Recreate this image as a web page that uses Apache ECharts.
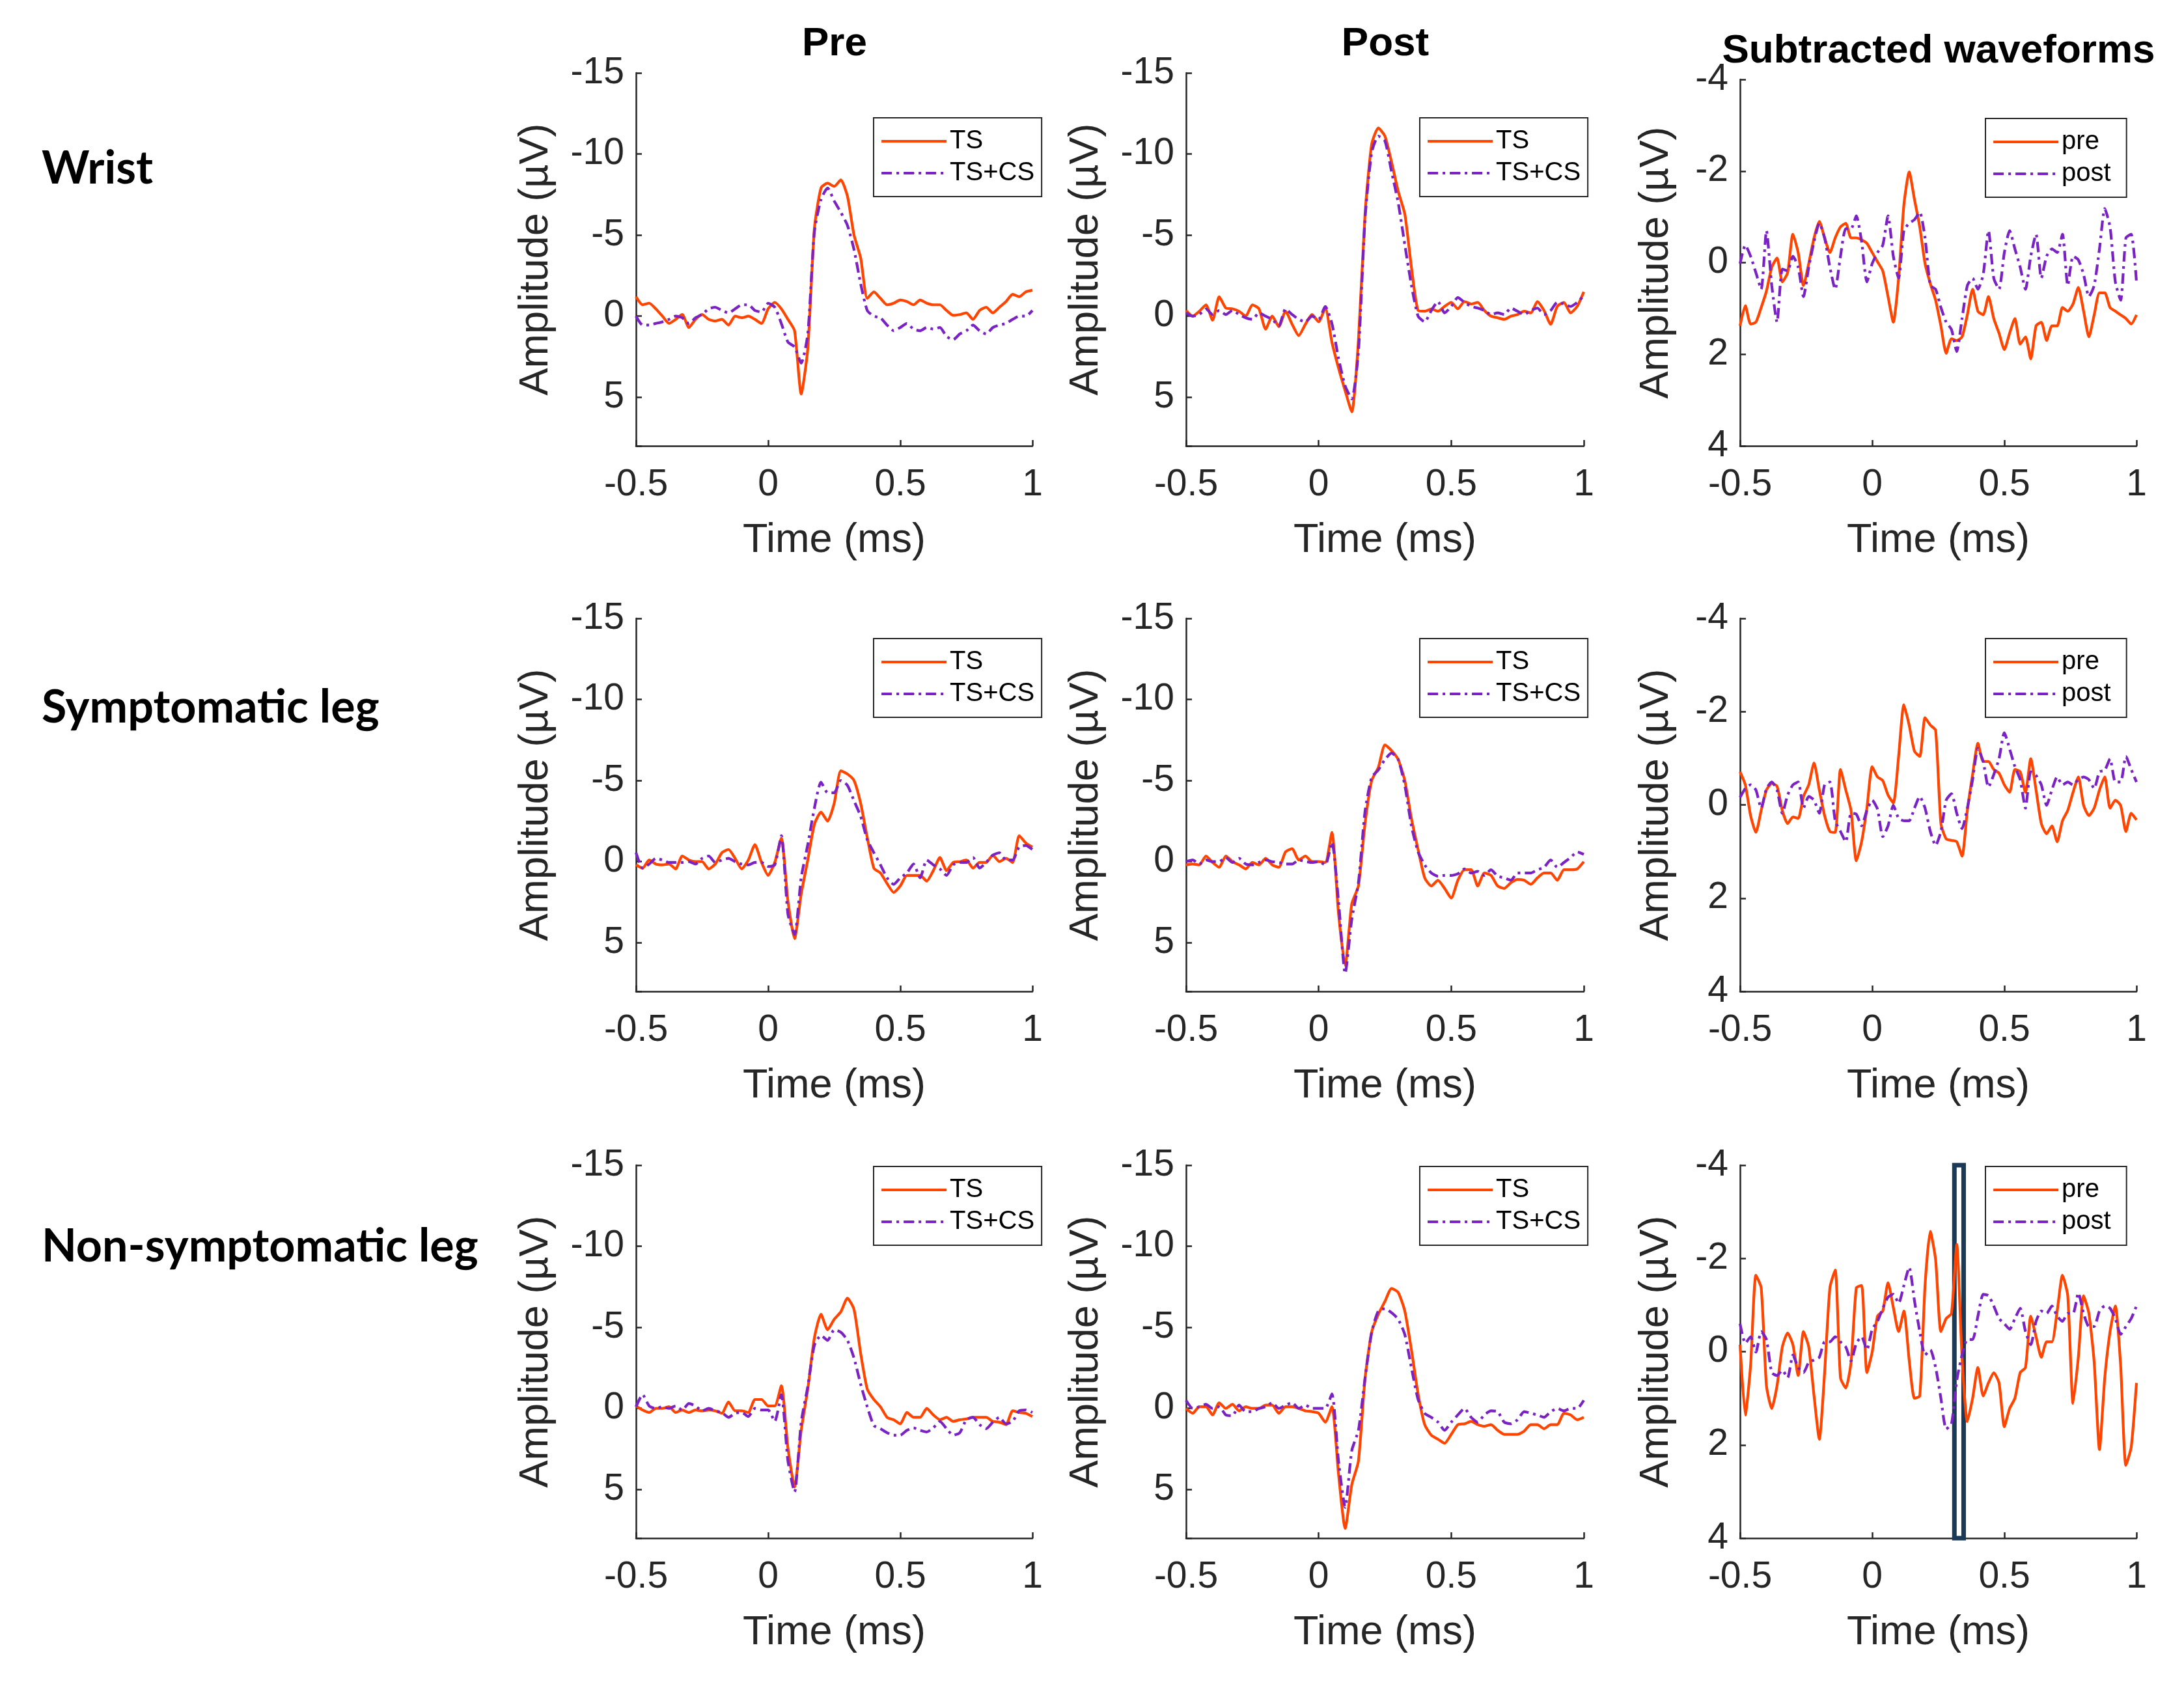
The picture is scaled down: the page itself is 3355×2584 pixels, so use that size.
<!DOCTYPE html>
<html>
<head>
<meta charset="utf-8">
<script src="https://cdn.jsdelivr.net/npm/echarts@6/dist/echarts.min.js"></script>
<style>
html, body { margin: 0; padding: 0; background: #fff; }
#main { width: 3355px; height: 2584px; }
</style>
</head>
<body>
<div id="main"></div>
<script>
// sample times (ms)
var timeWave = [-0.5,-0.475,-0.45,-0.425,-0.4,-0.375,-0.35,-0.325,-0.3,-0.275,-0.25,-0.225,-0.2,-0.175,-0.15,-0.125,-0.1,-0.075,-0.05,-0.025,0,0.025,0.05,0.075,0.1,0.125,0.15,0.175,0.2,0.225,0.25,0.275,0.3,0.325,0.35,0.375,0.4,0.425,0.45,0.475,0.5,0.525,0.55,0.575,0.6,0.625,0.65,0.675,0.7,0.725,0.75,0.775,0.8,0.825,0.85,0.875,0.9,0.925,0.95,0.975,1];
var timeDiff = [-0.5,-0.48,-0.46,-0.44,-0.42,-0.4,-0.38,-0.36,-0.34,-0.32,-0.3,-0.28,-0.26,-0.24,-0.22,-0.2,-0.18,-0.16,-0.14,-0.12,-0.1,-0.08,-0.06,-0.04,-0.02,0,0.02,0.04,0.06,0.08,0.1,0.12,0.14,0.16,0.18,0.2,0.22,0.24,0.26,0.28,0.3,0.32,0.34,0.36,0.38,0.4,0.42,0.44,0.46,0.48,0.5,0.52,0.54,0.56,0.58,0.6,0.62,0.64,0.66,0.68,0.7,0.72,0.74,0.76,0.78,0.8,0.82,0.84,0.86,0.88,0.9,0.92,0.94,0.96,0.98,1];

// Wrist
var wristPreTS = [-1.2,-0.7,-0.8,-0.45,0,0.45,0.2,-0.1,0.7,0.2,-0.1,0.2,0.3,0.2,0.55,0,0.1,0,0.2,0.45,-0.45,-0.85,-0.45,0.2,0.9,4.8,2.0,-5.4,-7.9,-8.2,-8.0,-8.4,-7.4,-5.0,-3.6,-1.1,-1.5,-1.1,-0.7,-0.8,-1.0,-0.9,-0.7,-1.0,-0.8,-0.7,-0.7,-0.35,-0.05,-0.1,-0.2,0.2,-0.35,-0.55,-0.2,-0.55,-0.9,-1.35,-1.2,-1.5,-1.6];
var wristPreCS = [0,0.55,0.55,0.45,0.35,0.2,0,0.1,0.45,0.1,-0.1,-0.45,-0.55,-0.35,-0.2,-0.45,-0.7,-0.7,-0.35,-0.25,-0.8,-0.55,0.45,1.6,1.9,2.9,1.1,-5.2,-7.2,-7.9,-7.1,-6.4,-5.6,-4.1,-2.0,-0.35,0,0.1,0.55,0.9,0.7,0.45,0.8,0.9,0.7,0.8,0.7,1.25,1.45,1.1,0.9,0.55,0.9,1.1,0.7,0.55,0.45,0.2,0,0,-0.35];
var wristPostTS = [-0.35,0,-0.3,-0.7,0.25,-1.2,-0.5,-0.45,-0.3,0,-0.7,-0.45,0.8,0,0.65,-0.3,0.5,1.2,0.5,-0.1,0.35,-0.5,1.6,3.2,4.6,5.9,1.5,-6.3,-10.6,-11.6,-11.1,-9.5,-7.7,-6.3,-3.0,-0.35,-0.3,-0.45,-0.3,-0.6,-0.85,-0.45,-0.9,-0.75,-0.85,-0.35,0,0.1,0.2,0,-0.1,-0.3,-0.2,-0.9,-0.35,0.5,-0.6,-0.85,-0.2,-0.6,-1.5];
var wristPostCS = [-0.2,0,-0.1,-0.45,-0.1,-0.35,-0.1,-0.35,-0.1,0.1,0.2,-0.2,0,0.2,0.6,-0.45,-0.1,0.2,0.35,0,0.2,-0.6,0.45,2.6,4.3,5.1,2.2,-6.0,-10.1,-11.1,-10.8,-8.9,-7.0,-4.4,-1.9,0,0.35,-0.35,-0.9,-0.2,-0.6,-1.15,-0.85,-0.6,-0.5,-0.35,-0.1,-0.2,-0.1,-0.5,-0.3,-0.1,-0.35,-0.5,-0.1,-0.35,-0.85,-0.75,-0.6,-0.85,-1.25];
var wristDiffPre = [1.38,0.94,1.34,1.30,0.98,0.62,0.10,-0.10,0.42,0.22,-0.62,-0.22,0.50,0.02,-0.54,-0.90,-0.54,-0.22,-0.54,-0.78,-0.86,-0.54,-0.54,-0.50,-0.42,-0.22,-0.02,0.18,0.74,1.30,0.34,-1.26,-1.98,-1.38,-0.78,0.02,0.46,0.82,1.38,1.98,1.66,1.70,1.62,1.14,0.58,1.06,1.14,0.74,1.22,1.54,1.90,1.54,1.22,1.78,1.62,2.10,1.38,1.30,1.70,1.38,1.38,0.98,1.06,0.90,0.54,1.06,1.62,1.14,0.66,0.66,0.98,1.06,1.14,1.22,1.34,1.14];
var wristDiffPost = [0.02,-0.38,-0.14,0.22,0.58,-0.70,0.50,1.30,0.14,0.18,-0.14,0.10,0.74,0.10,-0.46,-0.86,-0.54,0.10,0.58,-0.14,-0.74,-0.74,-1.02,-0.46,0.42,0.02,-0.22,-0.38,-1.02,-0.14,0.34,-0.70,-0.86,-0.94,-1.10,-0.54,0.50,0.58,0.98,1.30,1.46,1.94,1.22,0.50,0.34,0.58,0.26,-0.70,0.34,0.58,-0.22,-0.70,-0.30,0.10,0.58,-0.14,-0.62,0.34,-0.14,-0.30,-0.22,-0.62,0.50,-0.14,-0.06,0.26,0.74,0.50,-0.30,-1.18,-0.78,0.42,0.82,-0.54,-0.62,0.42];

// Symptomatic leg
var sympPreTS = [0.2,0.4,-0.1,0.15,0.2,0.15,0.45,-0.35,-0.1,0,0,0.45,0.15,-0.55,-0.75,-0.2,0.45,-0.1,-1.05,0.05,0.85,0.05,-1.45,2.45,4.75,2.0,-0.1,-2.3,-3.05,-2.5,-3.6,-5.6,-5.4,-5.0,-3.6,-1.5,0.4,0.7,1.35,1.9,1.5,0.85,0.85,0.85,1.2,0.55,-0.25,0.55,0.05,0,-0.1,0.4,0.05,0.05,-0.4,0,-0.2,0.05,-1.6,-1.15,-0.9];
var sympPreCS = [-0.55,0.4,0.15,-0.2,-0.1,0.05,0.05,0.05,0,0.15,-0.2,-0.35,0.05,-0.1,-0.2,0,0.15,0.2,0.05,0.05,0.3,0.2,-1.6,3.25,4.5,1.0,-1.05,-3.3,-4.9,-4.25,-4.25,-5.0,-4.7,-3.75,-2.8,-1.35,-0.55,0.2,1.0,1.4,1.0,0.7,0.15,1.0,-0.1,0.2,0.45,0.85,0.2,0.05,0.05,-0.25,0.4,0.05,-0.4,-0.55,-0.1,-0.1,-0.9,-1.0,-0.75];
var sympPostTS = [0.2,0.15,0.2,-0.35,0.05,0.35,-0.35,0,0.2,0.45,0.05,0.2,-0.2,0.2,0.35,-0.6,-0.8,-0.1,-0.35,0,0,0.05,-1.8,3.2,6.4,2.6,1.5,-2.35,-5.0,-5.8,-7.2,-6.85,-6.3,-5.0,-2.65,-0.75,1.0,1.5,1.15,1.65,2.25,1.15,0.5,0.5,1.5,0.7,0.85,1.5,1.65,1.3,1.1,1.15,1.4,1.0,0.7,0.7,1.15,0.5,0.5,0.45,0];
var sympPostCS = [0,-0.1,0.15,-0.1,0,0,-0.25,0.05,-0.2,0.15,0.2,0.05,-0.1,0,0.05,0.15,0.15,-0.1,0,0.05,0,0.2,-1.2,2.45,6.9,3.55,1.3,-3.1,-5.2,-5.65,-6.3,-6.7,-6.3,-4.7,-2.2,-0.6,0.2,0.7,0.9,0.85,0.85,0.75,0.45,0.7,0.6,0.85,0.5,0.9,1.0,1.15,0.7,0.7,0.7,0.5,0.35,-0.1,0.35,0.05,-0.25,-0.6,-0.45];
var sympDiffPre = [-0.71,-0.43,0.23,0.59,0.12,-0.32,-0.46,-0.40,0.12,0.40,0.26,0.29,-0.18,-0.43,-0.90,-0.32,0.23,0.57,0.59,-0.76,-0.32,0.12,1.20,0.79,0.07,-0.82,-0.60,-0.52,-0.21,-0.04,-1.04,-2.15,-1.71,-1.15,-1.04,-1.87,-1.71,-1.60,0.40,0.73,0.76,0.79,1.10,0.12,-0.65,-1.32,-0.93,-0.93,-0.76,-0.68,-0.43,-0.27,-0.76,-0.71,-0.27,-0.99,-0.32,0.40,0.62,0.45,0.79,0.34,0.12,-0.27,-0.60,0.01,0.23,0.07,-0.32,-0.60,0.07,-0.10,0.01,0.57,0.18,0.32];
var sympDiffPost = [-0.16,-0.35,-0.43,-0.32,0.07,-0.35,-0.49,-0.32,0.18,-0.21,-0.43,-0.49,0.07,-0.18,-0.10,0.18,-0.43,-0.49,0.34,0.57,0.79,0.18,0.20,0.45,0.12,-0.10,0.09,0.68,0.45,0.01,0.29,0.34,0.34,0.07,-0.18,0.07,0.57,0.87,0.57,-0.10,-0.24,0.18,0.51,0.07,-0.54,-1.21,-0.93,-0.38,-0.65,-0.99,-1.55,-1.20,-0.82,-0.54,0.07,-0.71,-0.63,-0.43,0.01,-0.32,-0.60,-0.43,-0.49,-0.43,-0.54,-0.60,-0.54,-0.35,-0.71,-0.74,-0.99,-0.49,-0.49,-1.04,-0.76,-0.49];

// Non-symptomatic leg
var nonPreTS = [-0.15,0.1,0.25,0,0,-0.1,0.25,0.1,0.25,0.1,0.15,0.1,0.15,0.3,-0.4,0.15,0.15,0.25,-0.55,-0.55,-0.15,-0.15,-1.4,2.45,4.85,1.35,-1.2,-4.35,-5.8,-4.85,-5.5,-5.95,-6.8,-6.1,-3.4,-1.2,-0.55,-0.1,0.55,0.7,0.95,0.25,0.55,0.55,0,0.4,0.7,0.55,0.8,0.7,0.65,0.55,0.55,0.55,0.8,0.85,1.0,0.15,0.25,0.3,0.5];
var nonPreCS = [-0.1,-0.85,-0.15,0,-0.1,0,-0.15,0.1,-0.3,-0.15,0.15,0,0.15,0.25,0.55,0.3,0.25,0.5,0,0.1,0.1,0.8,-0.85,3.25,5.15,0.85,-1.35,-3.9,-4.5,-4.2,-4.85,-4.7,-4.2,-3.1,-1.5,-0.1,1.05,1.25,1.5,1.65,1.65,1.35,1.2,1.35,1.45,1.2,0.8,1.25,1.65,1.5,0.7,0.55,1.0,1.25,0.85,0.55,0.95,0.8,0.15,0.1,0.25];
var nonPostTS = [0,0.3,-0.1,-0.1,0.4,-0.35,0,-0.25,0.15,-0.1,0,0,-0.2,-0.2,0.3,-0.1,-0.1,0,0.15,0.2,0.3,0.85,-0.1,4.05,7.4,4.7,3.25,-1.85,-4.7,-5.8,-6.6,-7.4,-7.15,-6.0,-3.6,-0.9,1.0,1.65,1.9,2.15,1.6,1.0,0.95,0.8,1.0,1.1,1.0,1.35,1.6,1.6,1.6,1.4,1.0,1.0,1.25,1.0,1.0,0.3,0.4,0.7,0.55];
var nonPostCS = [-0.5,0,-0.1,-0.25,0,-0.1,0.4,0.45,-0.2,0.2,0.2,0,-0.1,-0.35,0,-0.2,-0.35,0,-0.2,0,0,0,-0.9,3.25,6.1,2.6,1.35,-1.85,-4.7,-6.0,-6.15,-5.9,-5.5,-4.55,-2.5,-0.55,0.3,0.55,0.85,1.35,0.85,0.4,0,0.55,0.85,0.4,0.15,0.2,0.85,0.95,0.7,0.2,0.3,0.4,0.55,0.2,0,0.15,0,0,-0.5];
var nonDiffPre = [-0.15,1.36,0.29,-1.64,-1.37,0.73,1.22,0.73,-0.10,-0.40,-0.15,0.51,-0.43,-0.10,0.95,1.88,0.45,-1.37,-1.75,0.56,0.78,0.23,-1.37,-1.42,0.45,0.01,-0.76,-0.87,-1.48,-0.95,-0.43,-0.87,0.18,1.00,0.95,-1.42,-2.58,-1.97,-0.43,-0.71,-0.82,-2.30,0.12,1.50,1.00,0.34,0.95,0.67,0.45,0.67,1.61,1.22,1.00,0.45,0.34,-0.76,-0.32,0.12,-0.21,-0.21,-0.87,-1.64,-1.20,1.11,0.12,-1.20,-0.82,0.23,2.10,0.56,-0.43,-0.98,0.29,2.44,2.05,0.67];
var nonDiffPost = [-0.60,-0.18,-0.32,0.01,-0.43,-0.26,0.45,0.51,0.40,0.56,0.07,0.34,0.45,0.23,0.18,0.12,-0.21,-0.21,-0.32,-0.21,-0.10,0.20,-0.18,-0.32,-0.04,-0.48,-0.65,-0.93,-1.17,-1.23,-1.04,-1.42,-1.81,-1.09,-0.43,0.07,-0.04,0.34,1.00,1.66,1.55,0.62,0.07,-0.26,-0.26,-0.76,-1.23,-1.20,-0.98,-0.71,-0.60,-0.48,-0.71,-0.93,-0.43,-0.15,-0.65,-0.87,-0.82,-0.98,-0.76,-0.65,-0.82,-0.82,-1.26,-0.82,-0.54,-0.54,-0.87,-0.98,-0.93,-0.71,-0.37,-0.54,-0.71,-0.98];

// highlighted window on the non-symptomatic subtracted plot (ms)
var highlightWindow = [0.311, 0.346];

var rowLabels = ['Wrist', 'Symptomatic leg', 'Non-symptomatic leg'];
var colTitles = ['Pre', 'Post', 'Subtracted waveforms'];
var waveNames = ['TS', 'TS+CS'];
var diffNames = ['pre', 'post'];

var panels = [
  {row: 0, col: 0, t: timeWave, a: wristPreTS, b: wristPreCS},
  {row: 0, col: 1, t: timeWave, a: wristPostTS, b: wristPostCS},
  {row: 0, col: 2, t: timeDiff, a: wristDiffPre, b: wristDiffPost},
  {row: 1, col: 0, t: timeWave, a: sympPreTS, b: sympPreCS},
  {row: 1, col: 1, t: timeWave, a: sympPostTS, b: sympPostCS},
  {row: 1, col: 2, t: timeDiff, a: sympDiffPre, b: sympDiffPost},
  {row: 2, col: 0, t: timeWave, a: nonPreTS, b: nonPreCS},
  {row: 2, col: 1, t: timeWave, a: nonPostTS, b: nonPostCS},
  {row: 2, col: 2, t: timeDiff, a: nonDiffPre, b: nonDiffPost, mark: true}
];

// layout
var colLeft = [977, 1822, 2673];
var colWidth = [609, 611, 609];
var rowTop = [112, 950, 1790];
var rowHeight = 573;
var legendTop = [181, 981, 1792];
var legendLeft = [1342, 2181, 3050];

var ORANGE = '#ff4500';
var PURPLE = '#7a22c4';
var AXIS = '#262626';
var FONT = '"Liberation Sans", Arial, sans-serif';
var LINE_W = 4.2;
var DASH_DOT = [16, 7, 4, 7];

function pairs(t, v) {
  var out = [];
  for (var i = 0; i < t.length; i++) out.push([t[i], v[i]]);
  return out;
}

var grids = [], xAxes = [], yAxes = [], series = [], legends = [];

panels.forEach(function (p, i) {
  var isDiff = p.col === 2;
  var top = rowTop[p.row];
  var h = rowHeight;
  if (p.row === 0 && isDiff) { top += 10; h -= 10; }
  grids.push({left: colLeft[p.col], top: top, width: colWidth[p.col], height: h, containLabel: false});

  xAxes.push({
    gridIndex: i, type: 'value', min: -0.5, max: 1, interval: 0.5,
    name: 'Time (ms)', nameLocation: 'middle', nameGap: 114,
    nameTextStyle: {fontSize: 63, fontFamily: FONT, color: AXIS},
    axisLine: {onZero: false, lineStyle: {color: AXIS, width: 2.5}},
    axisTick: {inside: true, length: 9, lineStyle: {color: AXIS, width: 2.5}},
    axisLabel: {fontSize: 57, fontFamily: FONT, color: AXIS, margin: 32, showMinLabel: true, showMaxLabel: true},
    splitLine: {show: false}
  });

  yAxes.push({
    gridIndex: i, type: 'value', inverse: true,
    min: isDiff ? -4 : -15, max: isDiff ? 4 : 8, interval: isDiff ? 2 : 5,
    name: 'Amplitude (µV)', nameLocation: 'middle', nameRotate: 90, nameGap: isDiff ? 97 : 122,
    nameTextStyle: {fontSize: 63, fontFamily: FONT, color: AXIS},
    axisLine: {onZero: false, lineStyle: {color: AXIS, width: 2.5}},
    axisTick: {inside: true, length: 9, lineStyle: {color: AXIS, width: 2.5}},
    axisLabel: {
      fontSize: 57, fontFamily: FONT, color: AXIS, margin: 18,
      formatter: function (v) { return (isDiff ? v % 2 === 0 : v % 5 === 0) ? String(v) : ''; }
    },
    splitLine: {show: false}
  });

  var names = isDiff ? diffNames : waveNames;
  var first = {
    name: names[0], type: 'line', xAxisIndex: i, yAxisIndex: i,
    data: pairs(p.t, p.a), symbol: 'none', smooth: 0.2,
    lineStyle: {color: ORANGE, width: LINE_W}, itemStyle: {color: ORANGE},
    z: 2
  };
  if (p.mark) {
    first.markArea = {
      silent: true,
      itemStyle: {color: 'rgba(255,255,255,0)', borderColor: '#1b3a57', borderWidth: 7},
      data: [[{xAxis: highlightWindow[0]}, {xAxis: highlightWindow[1]}]]
    };
  }
  series.push(first);
  series.push({
    name: names[1], type: 'line', xAxisIndex: i, yAxisIndex: i,
    data: pairs(p.t, p.b), symbol: 'none', smooth: 0.2,
    lineStyle: {color: PURPLE, width: LINE_W, type: DASH_DOT}, itemStyle: {color: PURPLE},
    z: 3
  });

  legends.push({
    orient: 'vertical', left: legendLeft[p.col], top: legendTop[p.row] + (isDiff && p.row === 0 ? 1 : 0),
    data: names, selectedMode: false,
    itemWidth: 100, itemHeight: 2, itemGap: 5, itemTextGap: 11,
    lineStyle: {width: LINE_W},
    padding: isDiff ? [14, 24, 14, 10] : [14, 11, 14, 10],
    backgroundColor: '#fff', borderColor: AXIS, borderWidth: 2, borderRadius: 0,
    textStyle: {fontSize: 40, lineHeight: 44, fontFamily: FONT, color: '#000'}
  });
});

var texts = [];
var titleX = [1282, 2128, 2978];
var titleY = [68, 68, 79];
colTitles.forEach(function (t, c) {
  texts.push({
    type: 'text', x: titleX[c], y: titleY[c], silent: true,
    style: {text: t, font: 'bold 62px ' + FONT, fill: '#000', align: 'center', verticalAlign: 'middle', textAlign: 'center', textVerticalAlign: 'middle'}
  });
});
var rowY = [259, 1087, 1915];
rowLabels.forEach(function (t, r) {
  texts.push({
    type: 'text', x: 64, y: rowY[r], silent: true,
    style: {text: t, font: 'bold 70px Lato, "Open Sans", sans-serif', fill: '#000', align: 'left', verticalAlign: 'middle', textAlign: 'left', textVerticalAlign: 'middle'}
  });
});

var chart = echarts.init(document.getElementById('main'));
chart.setOption({
  backgroundColor: '#fff',
  animation: false,
  grid: grids,
  xAxis: xAxes,
  yAxis: yAxes,
  legend: legends,
  series: series,
  graphic: texts
});
</script>
</body>
</html>
